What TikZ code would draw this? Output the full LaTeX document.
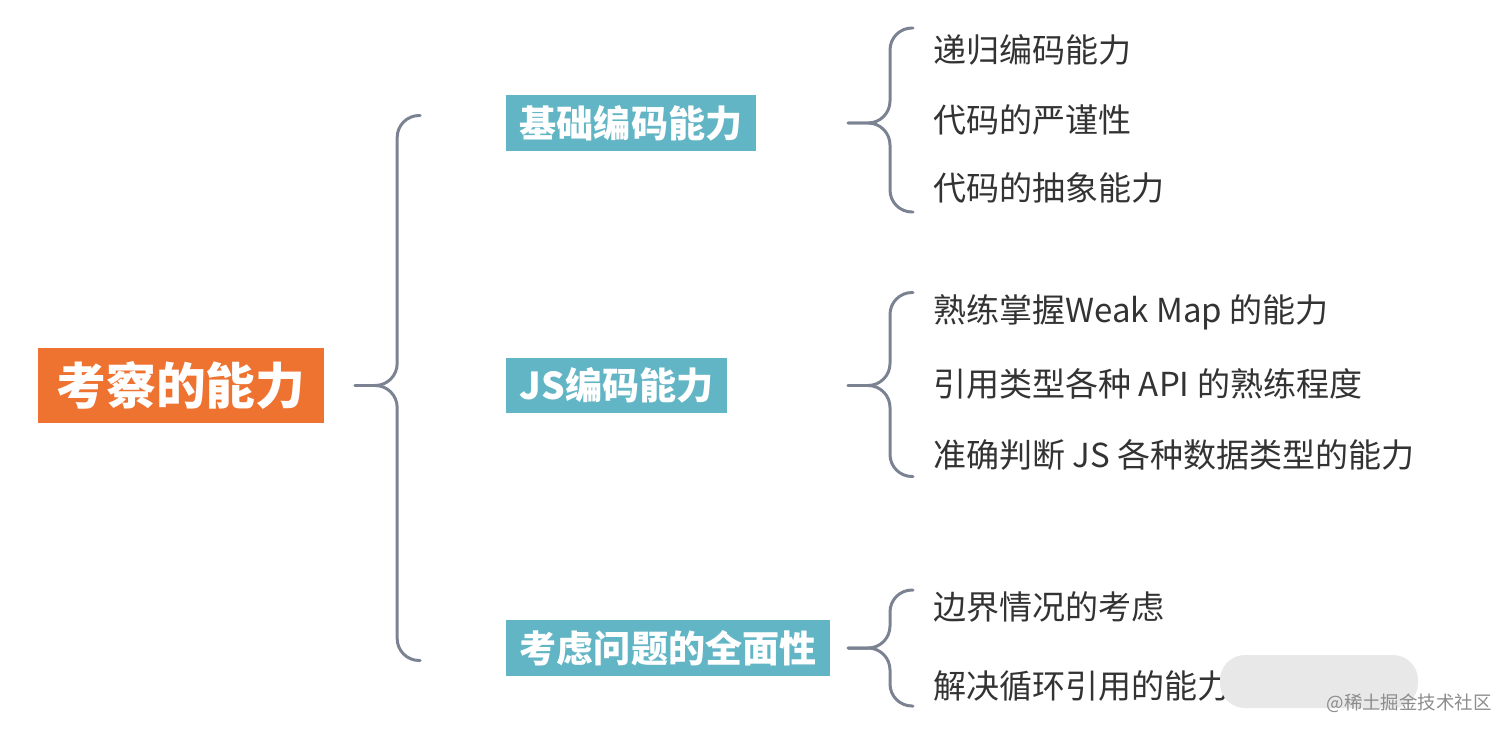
\documentclass[tikz,border=0pt]{standalone}
\usepackage{fontspec}
\setmainfont{Noto Sans CJK SC}
\usetikzlibrary{calc,positioning}
\definecolor{rootorange}{HTML}{EE7230}
\definecolor{subteal}{HTML}{62B5C5}
\definecolor{bracegrey}{HTML}{7B8291}
\definecolor{leafgrey}{HTML}{333333}
\def\bracket(#1)(#2:#3){%
	\draw[bracket] ($(#1)+(65,#2)$) -- ($(#1)+(42,#2)$) -- ($(#1)+(42,0)$) -- (#1);
	\draw[bracket] ($(#1)+(65,#3)$) -- ($(#1)+(42,#3)$) -- ($(#1)+(42,0)$) -- (#1);}

\begin{document}
\begin{tikzpicture}[x=0.02cm, y=-0.02cm,
	rootbox/.style={fill=rootorange, text=white, inner xsep=0.37cm, minimum height=1.5cm, font=\bfseries\fontsize{28.3}{30}\selectfont},
	subbox/.style={fill=subteal, text=white, inner xsep=0.27cm, minimum height=1.12cm, anchor=west, font=\bfseries\fontsize{21.1}{22}\selectfont},
	leaf/.style={text=leafgrey, inner sep=0pt, anchor=west, font=\fontsize{18.8}{20}\selectfont},
	bracket/.style={draw=bracegrey, line width=1.7pt, rounded corners=0.44cm, line cap=round}]
			%%%%% START %%%%%
			
			\useasboundingbox (0, 0) rectangle (1512, 734);
			
			\node[rootbox] (root) at (181, 385.5) {考察的能力};
			
			\node[subbox] (basic) at (506, 123) {基础编码能力};
			\node[subbox] (js) at (506, 385.5) {JS编码能力};
			\node[subbox] (whole) at (506, 648) {考虑问题的全面性};
			
			\node[leaf] (recur) at (933, 50) {递归编码能力};
			\node[leaf] (strict) at (933, 120) {代码的严谨性};
			\node[leaf] (abstr) at (933, 188) {代码的抽象能力};
			
			\node[leaf] (weakmap) at (933, 312) {熟练掌握Weak Map 的能力};
			\node[leaf] (refapi) at (933, 384) {引用类型各种 API 的熟练程度};
			\node[leaf] (types) at (933, 455) {准确判断 JS 各种数据类型的能力};
			
			\node[leaf] (bound) at (933, 607) {边界情况的考虑};
			\node[leaf] (cycle) at (933, 686) {解决循环引用的能力};
			
			\coordinate (tipx) at (848, 0);
			\coordinate (t0) at ($(root.east)+(31, 0)$);
			\coordinate (t1) at (basic.east -| tipx);
			\coordinate (t2) at (js.east -| tipx);
			\coordinate (t3) at (whole.east -| tipx);
			
			\bracket(t0)(-270:275)
			\bracket(t1)(-95:89)
			\bracket(t2)(-93:91)
			\bracket(t3)(-58:58)
			
			% watermark
			\fill[black!9, rounded corners=0.5cm] (1220, 655) rectangle (1418, 708);
			\node[text=black!45, inner sep=0pt, anchor=east, font=\fontsize{10.5}{12}\selectfont] (mark) at (1492, 703) {@稀土掘金技术社区};
			
			%%%%% END %%%%%
\end{tikzpicture}
\end{document}
